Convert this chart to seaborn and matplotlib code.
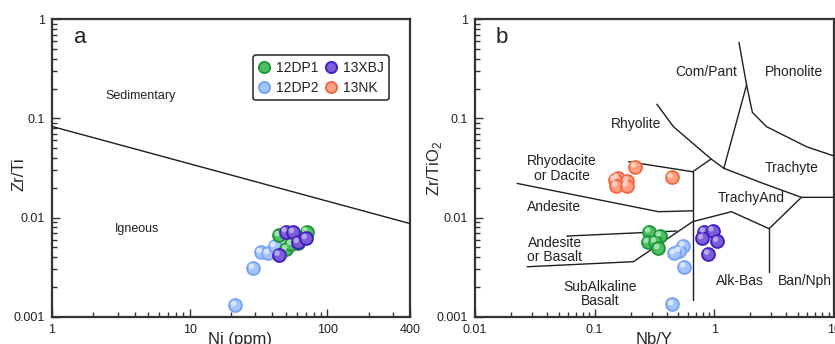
import numpy as np
import pandas as pd
import matplotlib
matplotlib.use("Agg")
import matplotlib.pyplot as plt
import matplotlib.transforms as mtransforms
from matplotlib.lines import Line2D
from matplotlib.ticker import LogLocator, NullFormatter
import seaborn as sns

# ---------------- data ----------------
groups = ["12DP1", "12DP2", "13XBJ", "13NK"]

# panel a : Ni (ppm) vs Zr/Ti
ni_12dp1 = [44.5, 70.9, 50.6, 55.0, 61.6]
zrti_12dp1 = [0.0066, 0.0072, 0.0048, 0.0054, 0.0055]
ni_12dp2 = [33.0, 37.2, 41.6, 29.0, 21.5]
zrti_12dp2 = [0.00447, 0.00437, 0.00514, 0.0031, 0.0013]
ni_13xbj = [50.1, 56.6, 61.3, 70.2, 44.5]
zrti_13xbj = [0.00723, 0.00712, 0.00564, 0.00619, 0.0042]

# panel b : Nb/Y vs Zr/TiO2
nby_12dp1 = [0.287, 0.352, 0.278, 0.320, 0.341]
zrtio2_12dp1 = [0.0072, 0.00656, 0.00562, 0.00571, 0.00489]
nby_12dp2 = [0.552, 0.511, 0.464, 0.562, 0.447]
zrtio2_12dp2 = [0.0052, 0.00459, 0.00435, 0.00319, 0.00133]
nby_13xbj = [0.820, 0.969, 0.794, 1.059, 0.891]
zrtio2_13xbj = [0.0072, 0.00737, 0.00617, 0.0058, 0.00429]
nby_13nk = [0.218, 0.1555, 0.1468, 0.188, 0.1516, 0.186, 0.441]
zrtio2_13nk = [0.0326, 0.0252, 0.0239, 0.0235, 0.0210, 0.0210, 0.0255]

# discrimination line, panel a
line_a_x = [1, 400]
line_a_y = [0.083, 0.0087]

# field boundaries, panel b (Winchester & Floyd)
bounds_b = [
    ([1.606, 1.86, 2.08, 2.73, 5.88, 10.0], [0.586, 0.2175, 0.115, 0.0826, 0.0519, 0.0418]),
    ([1.86, 1.2], [0.2175, 0.0314]),
    ([0.331, 0.455, 0.94, 1.2], [0.139, 0.0826, 0.039, 0.0314]),
    ([0.94, 0.66], [0.039, 0.029]),
    ([0.66, 0.66], [0.029, 0.00147]),
    ([0.192, 0.66], [0.0366, 0.029]),
    ([0.0225, 0.341, 0.66], [0.0221, 0.01146, 0.0117]),
    ([0.0587, 0.485], [0.00651, 0.00731]),
    ([0.0273, 0.211, 0.66, 1.39, 2.87, 5.34], [0.00319, 0.00359, 0.0091, 0.01146, 0.00772, 0.016]),
    ([2.87, 2.87], [0.00772, 0.00284]),
    ([1.2, 2.56, 5.34, 10.0], [0.0314, 0.0221, 0.016, 0.016]),
]

# ---------------- style ----------------
sns.set_style("ticks")
plt.rcParams["font.family"] = ["Liberation Sans", "DejaVu Sans"]
plt.rcParams["mathtext.fontset"] = "custom"
plt.rcParams["mathtext.rm"] = "Liberation Sans"

fill = {"12DP1": "#4fbf63", "12DP2": "#a3c4ff", "13XBJ": "#7a5fd6", "13NK": "#ff9f80"}
edge = {"12DP1": "#1d963a", "12DP2": "#7aa5f2", "13XBJ": "#4420c0", "13NK": "#ee6a45"}
hl = {"12DP1": "#a8e8b2", "12DP2": "#e0ecff", "13XBJ": "#bcaef0", "13NK": "#ffd5c6"}

spine_c = "#333333"
line_c = "#1e1e1e"

fig = plt.figure(figsize=(8.35, 3.44), dpi=100)
ax_a = fig.add_axes([52 / 835, 27.3 / 344, 358 / 835, 297.4 / 344])
ax_b = fig.add_axes([475 / 835, 27.3 / 344, 359 / 835, 297.4 / 344])


def spheres(ax, xs, ys, g):
    df = pd.DataFrame({"x": xs, "y": ys})
    sns.scatterplot(data=df, x="x", y="y", ax=ax, color=fill[g], edgecolor=edge[g],
                    linewidth=1.4, s=85, zorder=5, legend=False)
    sns.scatterplot(data=df, x="x", y="y", ax=ax, color=hl[g], edgecolor="none",
                    linewidth=0, s=16, zorder=5, legend=False, alpha=0.9)
    coll = ax.collections[-1]
    off = mtransforms.ScaledTranslation(-1.3 / 72, 1.3 / 72, fig.dpi_scale_trans)
    coll.set_offset_transform(coll.get_offset_transform() + off)


def style_axes(ax, xticks, xlabels):
    ax.set_xscale("log")
    ax.set_yscale("log")
    ax.set_ylim(0.001, 1)
    ax.set_yticks([0.001, 0.01, 0.1, 1])
    ax.set_yticklabels(["0.001", "0.01", "0.1", "1"])
    ax.set_xticks(xticks)
    ax.set_xticklabels(xlabels)
    for axis in (ax.xaxis, ax.yaxis):
        axis.set_minor_locator(LogLocator(base=10, subs=np.arange(2, 10), numticks=20))
        axis.set_minor_formatter(NullFormatter())
    ax.tick_params(which="both", direction="in", bottom=True, left=True, top=False, right=False,
                   color=spine_c, labelcolor="#222222", labelsize=9, width=1.0)
    ax.tick_params(which="major", length=5.5, pad=5)
    ax.tick_params(which="minor", length=3.5)
    for sp in ax.spines.values():
        sp.set_visible(True)
        sp.set_color(spine_c)
        sp.set_linewidth(1.6)


# ---------------- panel a ----------------
ax_a.plot(line_a_x, line_a_y, color=line_c, lw=1.0, zorder=3)
spheres(ax_a, ni_12dp2, zrti_12dp2, "12DP2")
spheres(ax_a, ni_12dp1, zrti_12dp1, "12DP1")
spheres(ax_a, ni_13xbj, zrti_13xbj, "13XBJ")
ax_a.set_xlim(1, 400)
style_axes(ax_a, [1, 10, 100, 400], ["1", "10", "100", "400"])
ax_a.set_xlabel("Ni (ppm)", fontsize=12)
ax_a.set_ylabel("Zr/Ti", fontsize=12)
ax_a.xaxis.set_label_coords(0.525, -0.05)
ax_a.yaxis.set_label_coords(-0.07, 0.48)

ax_a.text(1.61, 0.66, "a", fontsize=16, ha="center", va="center", color="#222222")
ax_a.text(4.43, 0.168, "Sedimentary", fontsize=9, ha="center", va="center", color="#222222")
ax_a.text(4.15, 0.0077, "Igneous", fontsize=9, ha="center", va="center", color="#222222")


def leg_handle(g):
    return Line2D([], [], ls="none", marker="o", markersize=8.0, markerfacecolor=fill[g],
                  markeredgecolor=edge[g], markeredgewidth=1.4)


order = ["12DP1", "12DP2", "13XBJ", "13NK"]
leg = ax_a.legend([leg_handle(g) for g in order], order, ncol=2, loc="upper left",
                  bbox_to_anchor=(0.561, 0.88), borderaxespad=0, frameon=True, fancybox=True,
                  fontsize=10, handlelength=0.8, handletextpad=0.45, columnspacing=0.5,
                  labelspacing=0.45, borderpad=0.4)
fr = leg.get_frame()
fr.set_edgecolor(spine_c)
fr.set_linewidth(1.2)
fr.set_alpha(1)
for t in leg.get_texts():
    t.set_color("#222222")

# ---------------- panel b ----------------
for bx, by in bounds_b:
    ax_b.plot(bx, by, color=line_c, lw=1.0, zorder=3, solid_joinstyle="miter")
spheres(ax_b, nby_13nk, zrtio2_13nk, "13NK")
spheres(ax_b, nby_12dp1, zrtio2_12dp1, "12DP1")
spheres(ax_b, nby_12dp2, zrtio2_12dp2, "12DP2")
spheres(ax_b, nby_13xbj, zrtio2_13xbj, "13XBJ")
ax_b.set_xlim(0.01, 10)
style_axes(ax_b, [0.01, 0.1, 1, 10], ["0.01", "0.1", "1", "10"])
ax_b.set_xlabel("Nb/Y", fontsize=12)
ax_b.set_ylabel("Zr/TiO$_2$", fontsize=12)
ax_b.xaxis.set_label_coords(0.5, -0.05)
ax_b.yaxis.set_label_coords(-0.085, 0.5)

fs_b = 10
tc = "#222222"
ax_b.text(0.0167, 0.66, "b", fontsize=16, ha="center", va="center", color=tc)
ax_b.text(0.851, 0.292, "Com/Pant", fontsize=fs_b, ha="center", va="center", color=tc)
ax_b.text(4.65, 0.292, "Phonolite", fontsize=fs_b, ha="center", va="center", color=tc)
ax_b.text(0.22, 0.0874, "Rhyolite", fontsize=fs_b, ha="center", va="center", color=tc)
ax_b.text(0.0533, 0.0313, "Rhyodacite\nor Dacite", fontsize=fs_b, ha="center", va="center",
          color=tc, linespacing=1.05)
ax_b.text(4.42, 0.0314, "Trachyte", fontsize=fs_b, ha="center", va="center", color=tc)
ax_b.text(2.02, 0.01577, "TrachyAnd", fontsize=fs_b, ha="center", va="center", color=tc)
ax_b.text(0.046, 0.0127, "Andesite", fontsize=fs_b, ha="center", va="center", color=tc)
ax_b.text(0.0463, 0.00471, "Andesite\nor Basalt", fontsize=fs_b, ha="center", va="center",
          color=tc, linespacing=1.05)
ax_b.text(0.1107, 0.0017, "SubAlkaline\nBasalt", fontsize=fs_b, ha="center", va="center",
          color=tc, linespacing=1.05)
ax_b.text(1.636, 0.00229, "Alk-Bas", fontsize=fs_b, ha="center", va="center", color=tc)
ax_b.text(3.38, 0.00229, "Ban/Nph", fontsize=fs_b, ha="left", va="center", color=tc)

fig.savefig("out.png", dpi=100)
